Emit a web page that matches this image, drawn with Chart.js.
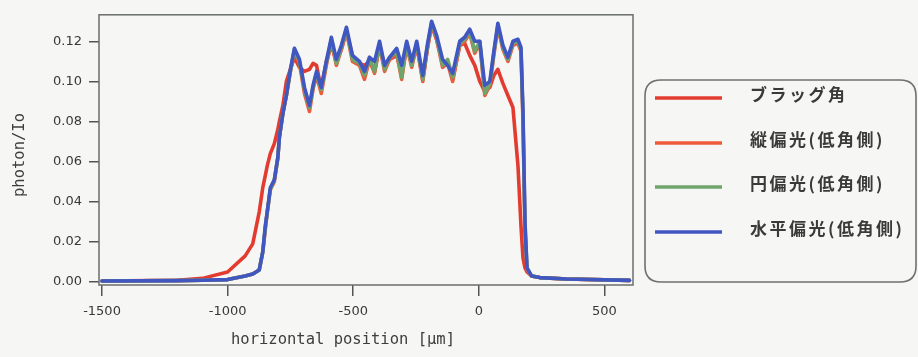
<!DOCTYPE html>
<html>
<head>
<meta charset="utf-8">
<script src="https://cdn.jsdelivr.net/npm/chart.js@4/dist/chart.umd.min.js"></script>
<style>
html,body{margin:0;padding:0;background:#f6f6f4;}
#wrap{width:918px;height:357px;position:relative;}
</style>
</head>
<body>
<div id="wrap"><canvas id="c" width="918" height="357"></canvas></div>
<script>
// Shared x positions (µm)
const positions = [-1500,-1200,-1100,-1000,-930,-900,-874,-860,-850,-842,-830,
  -814,-800,-794,-780,-766,-750,-734,-714,-694,-674,
  -660,-646,-627,-607,-587,-567,-547,-527,-503,-475,
  -455,-435,-415,-395,-375,-355,-327,-307,-287,-267,
  -247,-223,-205,-188,-168,-144,-124,-104,-76,-56,
  -36,-16,4,24,44,60,76,96,116,136,
  156,168,176,184,192,210,243,350,600];

const braggAngle = [0.0005,0.0009,0.0018,0.005,0.013,0.019,0.035,0.047,0.053,0.058,0.064,
  0.069,0.076,0.080,0.088,0.100,0.106,0.112,0.107,0.105,0.106,
  0.109,0.108,0.096,0.110,0.118,0.110,0.116,0.125,0.113,0.109,
  0.108,0.110,0.105,0.118,0.107,0.111,0.113,0.104,0.117,0.109,
  0.118,0.101,0.116,0.128,0.121,0.109,0.110,0.101,0.118,0.119,
  0.113,0.108,0.100,0.095,0.097,0.103,0.106,0.099,0.093,0.087,
  0.058,0.028,0.012,0.007,0.005,0.003,0.0022,0.0015,0.0008];

const verticalPol = [0.0005,0.0007,0.0009,0.0012,0.003,0.004,0.006,0.015,0.026,0.035,0.046,
  0.050,0.062,0.072,0.084,0.093,0.105,0.115,0.109,0.094,0.085,
  0.096,0.103,0.094,0.108,0.120,0.108,0.116,0.125,0.110,0.108,
  0.101,0.111,0.104,0.118,0.105,0.111,0.114,0.101,0.118,0.107,
  0.118,0.100,0.116,0.128,0.121,0.107,0.109,0.100,0.118,0.120,
  0.124,0.114,0.119,0.093,0.098,0.113,0.127,0.116,0.110,0.118,
  0.119,0.115,0.080,0.025,0.006,0.003,0.0022,0.0015,0.0008];

const circularPol = [0.0005,0.0007,0.0009,0.0012,0.003,0.004,0.006,0.015,0.027,0.035,0.046,
  0.051,0.062,0.072,0.084,0.093,0.105,0.116,0.110,0.096,0.087,
  0.097,0.104,0.096,0.109,0.121,0.109,0.117,0.126,0.111,0.109,
  0.103,0.112,0.105,0.119,0.106,0.112,0.115,0.102,0.119,0.108,
  0.119,0.101,0.117,0.129,0.122,0.108,0.111,0.102,0.119,0.121,
  0.125,0.115,0.120,0.094,0.099,0.114,0.128,0.117,0.111,0.119,
  0.120,0.116,0.083,0.028,0.007,0.003,0.0022,0.0015,0.0008];

const horizontalPol = [0.0005,0.0007,0.0009,0.0012,0.003,0.004,0.006,0.015,0.028,0.035,0.047,
  0.051,0.062,0.072,0.084,0.093,0.106,0.1165,0.111,0.097,0.088,
  0.098,0.105,0.097,0.110,0.122,0.111,0.118,0.127,0.113,0.110,
  0.105,0.112,0.110,0.120,0.108,0.112,0.1165,0.108,0.120,0.110,
  0.120,0.103,0.118,0.130,0.123,0.111,0.108,0.104,0.120,0.122,
  0.126,0.120,0.120,0.098,0.100,0.115,0.129,0.118,0.112,0.120,
  0.121,0.117,0.085,0.030,0.007,0.003,0.0022,0.0015,0.0008];

const seriesLabels = ['ブラッグ角','縦偏光(低角側)','円偏光(低角側)','水平偏光(低角側)'];
const seriesColors = ['#e23c30','#ec5b3a','#6fa56b','#4057c2'];
const xTickValues = [-1500,-1000,-500,0,500];
const yTickValues = [0,0.02,0.04,0.06,0.08,0.10,0.12];
const xTitle = 'horizontal position [µm]';
const yTitle = 'photon/Io';

const seriesValues = [braggAngle, verticalPol, circularPol, horizontalPol];
const drawOrder = [3,2,1,0];

const datasets = seriesValues.map((vals,i)=>({
  label: seriesLabels[i],
  data: positions.map((x,j)=>({x:x,y:vals[j]})),
  borderColor: seriesColors[i],
  backgroundColor: seriesColors[i],
  borderWidth: 3.6,
  pointRadius: 0,
  tension: 0,
  order: drawOrder[i],
  borderJoinStyle: 'round',
  borderCapStyle: 'round'
}));

const frameAndLegend = {
  id: 'frameAndLegend',
  beforeDraw(chart){
    const ctx = chart.ctx;
    ctx.save();
    ctx.fillStyle = '#f6f6f4';
    ctx.fillRect(0,0,chart.width,chart.height);
    ctx.restore();
  },
  afterDraw(chart){
    const ctx = chart.ctx;
    const a = chart.chartArea;
    ctx.save();
    ctx.strokeStyle = '#6a6e6c';
    ctx.lineWidth = 1.5;
    ctx.strokeRect(a.left, a.top, a.right - a.left, a.bottom - a.top);
    // axis titles
    ctx.fillStyle = '#3e3e3e';
    ctx.font = '15.5px "DejaVu Sans Mono"';
    ctx.textAlign = 'center';
    ctx.textBaseline = 'middle';
    ctx.fillText(xTitle, 343, 340);
    ctx.save();
    ctx.translate(20, 155);
    ctx.rotate(-Math.PI/2);
    ctx.fillText(yTitle, 0, 0);
    ctx.restore();
    // legend box
    const bx = 645, by = 80, bw = 271, bh = 202, r = 16;
    ctx.beginPath();
    ctx.moveTo(bx + r, by);
    ctx.lineTo(bx + bw - r, by);
    ctx.quadraticCurveTo(bx + bw, by, bx + bw, by + r);
    ctx.lineTo(bx + bw, by + bh - r);
    ctx.quadraticCurveTo(bx + bw, by + bh, bx + bw - r, by + bh);
    ctx.lineTo(bx + r, by + bh);
    ctx.quadraticCurveTo(bx, by + bh, bx, by + bh - r);
    ctx.lineTo(bx, by + r);
    ctx.quadraticCurveTo(bx, by, bx + r, by);
    ctx.closePath();
    ctx.strokeStyle = '#707070';
    ctx.lineWidth = 1.6;
    ctx.stroke();
    const ys = [98, 143, 187, 232];
    chart.data.datasets.forEach((ds, i) => {
      ctx.beginPath();
      ctx.strokeStyle = ds.borderColor;
      ctx.lineWidth = 3.5;
      ctx.moveTo(655, ys[i]);
      ctx.lineTo(722, ys[i]);
      ctx.stroke();
      ctx.fillStyle = '#3a3a3a';
      ctx.font = 'bold 17px "Noto Sans CJK JP"';
      ctx.textBaseline = 'middle';
      ctx.textAlign = 'left';
      try { ctx.letterSpacing = '2.5px'; } catch(e) {}
      ctx.fillText(ds.label, 750, ys[i] - 3);
      try { ctx.letterSpacing = '0px'; } catch(e) {}
    });
    ctx.restore();
  }
};

new Chart(document.getElementById('c'), {
  type: 'line',
  data: { datasets },
  options: {
    responsive: false,
    animation: false,
    layout: { padding: { top: 9, right: 285, left: 0, bottom: 0 } },
    plugins: { legend: { display: false }, tooltip: { enabled: false } },
    scales: {
      x: {
        type: 'linear',
        min: -1512, max: 614,
        afterBuildTicks(s){ s.ticks = xTickValues.map(v=>({value:v})); },
        afterFit(s){ s.height = 72; },
        border: { display: false },
        grid: { drawOnChartArea: false, drawTicks: true, tickLength: 11, color: '#555', lineWidth: 1.5 },
        ticks: { color: '#383838', font: { family: 'DejaVu Sans', size: 13 }, padding: 8, maxRotation: 0,
          callback: v => String(v) },
        title: { display: false }
      },
      y: {
        type: 'linear',
        min: -0.0015, max: 0.1332,
        afterBuildTicks(s){ s.ticks = yTickValues.map(v=>({value:v})); },
        afterFit(s){ s.width = 99; },
        border: { display: false },
        grid: { drawOnChartArea: false, drawTicks: true, tickLength: 10, color: '#555', lineWidth: 1.5 },
        ticks: { color: '#383838', font: { family: 'DejaVu Sans', size: 13 }, padding: 7,
          callback: v => v.toFixed(2) },
        title: { display: false }
      }
    }
  },
  plugins: [frameAndLegend]
});
</script>
</body>
</html>
